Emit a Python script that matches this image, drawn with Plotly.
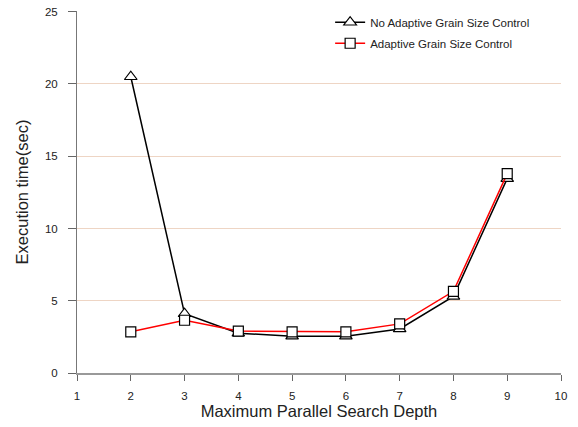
import plotly.graph_objects as go

depth = [2, 3, 4, 5, 6, 7, 8, 9]
no_adaptive = [20.5, 4.1, 2.75, 2.55, 2.55, 3.05, 5.3, 13.45]
adaptive = [2.85, 3.65, 2.9, 2.85, 2.85, 3.4, 5.65, 13.8]
x_ticks = [1, 2, 3, 4, 5, 6, 7, 8, 9, 10]
y_ticks = [0, 5, 10, 15, 20, 25]

fig = go.Figure()
fig.add_trace(go.Scatter(
    x=depth, y=no_adaptive, mode="lines+markers",
    name="No Adaptive Grain Size Control", legendgroup="a",
    line=dict(color="black", width=1.5),
    marker=dict(symbol="triangle-up", size=11, color="white",
                line=dict(color="black", width=1.2)),
))
fig.add_trace(go.Scatter(
    x=depth, y=adaptive, mode="lines+markers",
    name="Adaptive Grain Size Control", legendgroup="b",
    line=dict(color="red", width=1.5),
    marker=dict(symbol="square", size=10, color="white",
                line=dict(color="black", width=1.2)),
))

axis_font = dict(family="Liberation Sans, Arial, sans-serif", size=11.5, color="#222")
fig.update_layout(
    width=578, height=427,
    margin=dict(l=77, r=17, t=11, b=54, autoexpand=False),
    paper_bgcolor="white", plot_bgcolor="white",
    font=dict(family="Liberation Sans, Arial, sans-serif", color="#222"),
    showlegend=True,
    legend=dict(x=0.523, y=1.009, xanchor="left", yanchor="top",
                bgcolor="rgba(0,0,0,0)", font=dict(size=11.5),
                itemwidth=30, tracegroupgap=2),
    xaxis=dict(range=[1, 10], tickvals=x_ticks, ticks="outside", ticklen=6,
               tickcolor="#666", showline=True, linecolor="#999", linewidth=1.5,
               showgrid=False, zeroline=False, tickfont=axis_font, automargin=False,
               ticklabelstandoff=5,
               title=dict(text="Maximum Parallel Search Depth", font=dict(size=16.5), standoff=4)),
    yaxis=dict(range=[0, 25.05], tickvals=y_ticks, ticks="outside", ticklen=8,
               tickcolor="#666", showline=True, linecolor="#777", linewidth=1,
               showgrid=True, gridcolor="#eed5c4", gridwidth=1, zeroline=False,
               tickfont=axis_font, automargin=False, ticklabelstandoff=8,
               title=dict(text="Execution time(sec)", font=dict(size=16.5), standoff=12)),
)
fig.write_html("out.html", config={"displayModeBar": False},
               post_script="document.body.style.margin='0';")
